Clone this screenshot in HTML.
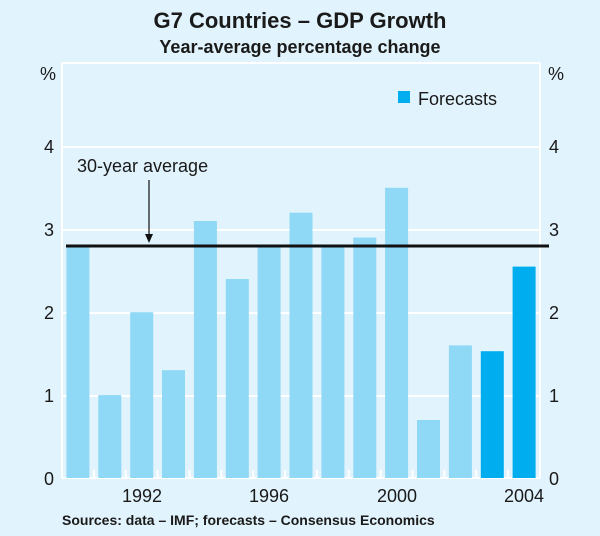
<!DOCTYPE html><html><head><style>body{margin:0}svg{display:block}text{font-family:"Liberation Sans",Arial,sans-serif;fill:#1a1a1a}</style></head><body>
<svg width="600" height="536" xmlns="http://www.w3.org/2000/svg">
<rect width="600" height="536" fill="#e1f3fc"/>
<text x="300" y="28" font-size="22" font-weight="bold" text-anchor="middle">G7 Countries – GDP Growth</text>
<text x="300" y="53" font-size="18" font-weight="bold" text-anchor="middle">Year-average percentage change</text>
<g stroke="#fff" stroke-width="2">
<line x1="62" y1="63" x2="62" y2="478"/><line x1="540" y1="63" x2="540" y2="478"/>
<line x1="62" y1="63" x2="540" y2="63"/>
<line x1="62" y1="147" x2="540" y2="147"/><line x1="62" y1="230" x2="540" y2="230"/>
<line x1="62" y1="313" x2="540" y2="313"/><line x1="62" y1="396" x2="540" y2="396"/>
<line x1="62" y1="478" x2="540" y2="478"/>
</g>
<g fill="#8fd8f6">
<rect x="66.4" y="245.9" width="23" height="232.1"/>
<rect x="98.3" y="395.1" width="23" height="82.9"/>
<rect x="130.2" y="312.2" width="23" height="165.8"/>
<rect x="162.0" y="370.2" width="23" height="107.8"/>
<rect x="193.9" y="221" width="23" height="257"/>
<rect x="225.8" y="279" width="23" height="199"/>
<rect x="257.6" y="245.9" width="23" height="232.1"/>
<rect x="289.5" y="212.7" width="23" height="265.3"/>
<rect x="321.4" y="245.9" width="23" height="232.1"/>
<rect x="353.3" y="237.6" width="23" height="240.4"/>
<rect x="385.1" y="187.8" width="23" height="290.2"/>
<rect x="417.0" y="420" width="23" height="58"/>
<rect x="448.9" y="345.4" width="23" height="132.6"/>
</g>
<g fill="#00aeef">
<rect x="480.8" y="351.2" width="23" height="126.8"/>
<rect x="512.6" y="266.6" width="23" height="211.4"/>
</g>
<g stroke="#fff" stroke-width="2">
<line x1="93.9" y1="470" x2="93.9" y2="478"/><line x1="125.7" y1="470" x2="125.7" y2="478"/>
<line x1="157.6" y1="470" x2="157.6" y2="478"/><line x1="189.5" y1="470" x2="189.5" y2="478"/>
<line x1="221.3" y1="470" x2="221.3" y2="478"/><line x1="253.2" y1="470" x2="253.2" y2="478"/>
<line x1="285.1" y1="470" x2="285.1" y2="478"/><line x1="316.9" y1="470" x2="316.9" y2="478"/>
<line x1="348.8" y1="470" x2="348.8" y2="478"/><line x1="380.7" y1="470" x2="380.7" y2="478"/>
<line x1="412.5" y1="470" x2="412.5" y2="478"/><line x1="444.4" y1="470" x2="444.4" y2="478"/>
<line x1="476.3" y1="470" x2="476.3" y2="478"/><line x1="508.1" y1="470" x2="508.1" y2="478"/>
</g>
<line x1="66" y1="246" x2="549" y2="246" stroke="#111" stroke-width="3"/>
<line x1="149" y1="180" x2="149" y2="238" stroke="#111" stroke-width="1.2"/>
<polygon points="145,234 153,234 149,243" fill="#111"/>
<text x="77" y="172" font-size="18">30-year average</text>
<rect x="398" y="91" width="12" height="12" fill="#00aeef"/>
<text x="418" y="105" font-size="18">Forecasts</text>
<g font-size="18" text-anchor="end">
<text x="56" y="80">%</text><text x="54" y="153">4</text><text x="54" y="236">3</text><text x="54" y="319">2</text><text x="54" y="402">1</text><text x="54" y="485">0</text>
</g>
<g font-size="18">
<text x="548" y="80">%</text><text x="549" y="153">4</text><text x="549" y="236">3</text><text x="549" y="319">2</text><text x="549" y="402">1</text><text x="549" y="485">0</text>
</g>
<g font-size="18" text-anchor="middle">
<text x="142" y="502">1992</text><text x="269" y="502">1996</text><text x="397" y="502">2000</text><text x="524" y="502">2004</text>
</g>
<text x="62" y="525" font-size="14" font-weight="bold">Sources: data – IMF; forecasts – Consensus Economics</text>
</svg></body></html>
